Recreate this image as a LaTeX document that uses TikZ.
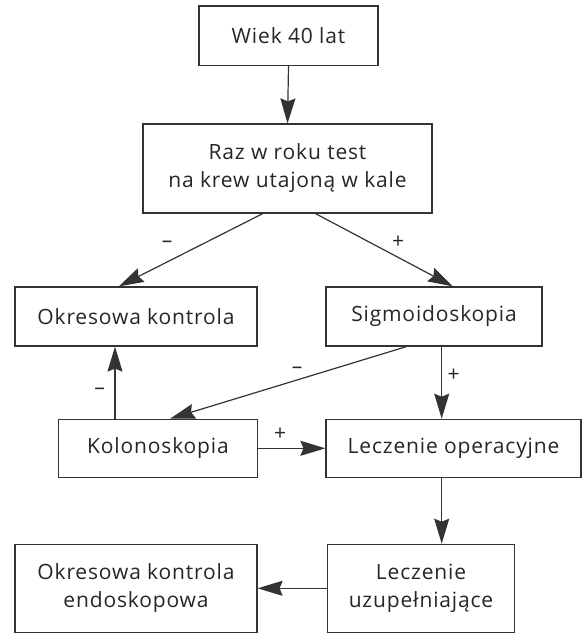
\documentclass[tikz,border=0pt]{standalone}
\usepackage{fontspec}
\setmainfont[LetterSpace=4]{Open Sans}
\usetikzlibrary{arrows.meta,calc}
\begin{document}
\begin{tikzpicture}[x=1pt,y=-1pt,
  box/.style={draw=black!80,line width=1.2pt,inner sep=0pt,align=center,
    font=\fontsize{21}{28}\selectfont,text=black!85},
  arr/.style={draw=black!80,line width=1.2pt,-{Stealth[length=25pt,width=15pt,inset=3pt]}},
  lbl/.style={font=\fontsize{21}{24}\selectfont,text=black!85,inner sep=0pt}]
\useasboundingbox (0,0) rectangle (582,634);
\node[box,minimum width=179pt,minimum height=59.5pt] (b1) at (288.5,35.75) {Wiek 40 lat};
\node[box,minimum width=289pt,minimum height=89pt] (b2) at (287.5,168.5) {Raz w roku test\\na krew utajoną w kale};
\node[box,minimum width=242pt,minimum height=59pt] (b3) at (136,316.5) {Okresowa kontrola};
\node[box,minimum width=216pt,minimum height=59pt] (b4) at (434,316.5) {Sigmoidoskopia};
\node[box,minimum width=198.6pt,minimum height=58pt] (b5) at (158,448.3) {Kolonoskopia};
\node[box,minimum width=255pt,minimum height=58pt] (b6) at (453.5,448.3) {Leczenie operacyjne};
\node[box,minimum width=242pt,minimum height=88pt] (b7) at (136,588.3) {Okresowa kontrola\\endoskopowa};
\node[box,minimum width=186.7pt,minimum height=88pt] (b8) at (421,588.3) {Leczenie\\uzupełniające};
% connectors
\draw[arr] (b1.south) -- (b2.north);
\draw[arr] ($(b2.south)+(-24.7,0)$) -- ($(b3.north)+(-17.2,0)$);
\draw[arr] ($(b2.south)+(28,0)$) -- ($(b4.north)+(18.9,0)$);
\coordinate (s46) at ($(b4.south)+(7.7,0)$);
\draw[arr] (s46) -- (s46 |- b6.north);
\draw[arr] ($(b4.south)+(-27.5,0)$) -- ($(b5.north)+(12,0)$);
\coordinate (s53) at ($(b5.north)+(-43,0)$);
\draw[arr] (s53) -- (s53 |- b3.south);
\draw[arr] (b5.east) -- (b6.west);
\coordinate (s68) at (s46 |- b6.south);
\draw[arr] (s68) -- (s68 |- b8.north);
\draw[arr] (b8.west) -- (b7.east);
% labels
\node[lbl] (m1) at (167,244) {–};
\node[lbl] (p1) at (398,242.7) {+};
\node[lbl] (p2) at (453.6,375.7) {+};
\node[lbl] (m2) at (297,370.7) {–};
\node[lbl] (m3) at (99.5,391) {–};
\node[lbl] (p3) at (280,434) {+};
\end{tikzpicture}
\end{document}
